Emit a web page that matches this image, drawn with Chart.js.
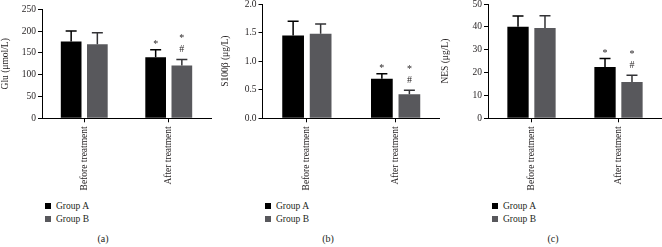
<!DOCTYPE html>
<html>
<head>
<meta charset="utf-8">
<script src="https://cdn.jsdelivr.net/npm/chart.js@4.4.1/dist/chart.umd.min.js"></script>
<style>
  body { margin: 0; background: #fff; width: 662px; height: 247px; position: relative; overflow: hidden;
         font-family: "Liberation Serif", "Times New Roman", serif; color: #231f20; }
  canvas { position: absolute; }
  .leg { position: absolute; font-size: 9.5px; line-height: 13px; white-space: nowrap; }
  .leg i { display: inline-block; width: 6px; height: 6px; margin-right: 5px; vertical-align: 0px; }
  .lab { position: absolute; font-size: 10px; transform: translateX(-50%); }
</style>
</head>
<body>
<canvas id="ca"></canvas>
<canvas id="cb"></canvas>
<canvas id="cc"></canvas>

<div class="leg" style="left:45px;top:200px"><i style="background:#000"></i>Group A<br><i style="background:#58585c"></i>Group B</div>
<div class="leg" style="left:265px;top:200px"><i style="background:#000"></i>Group A<br><i style="background:#58585c"></i>Group B</div>
<div class="leg" style="left:492px;top:200px"><i style="background:#000"></i>Group A<br><i style="background:#58585c"></i>Group B</div>
<div class="lab" style="left:103px;top:233px">(a)</div>
<div class="lab" style="left:328px;top:233px">(b)</div>
<div class="lab" style="left:553px;top:233px">(c)</div>

<script>
// data
const categories = ['Before treatment', 'After treatment'];
const groupNames = ['Group A', 'Group B'];

const gluA = [176, 140];
const gluAErr = [24, 17];
const gluB = [170, 121];
const gluBErr = [26, 14];

const s100A = [1.45, 0.69];
const s100AErr = [0.25, 0.09];
const s100B = [1.48, 0.42];
const s100BErr = [0.17, 0.07];

const nesA = [40, 22.4];
const nesAErr = [4.8, 3.8];
const nesB = [39.5, 15.9];
const nesBErr = [5.4, 2.9];

// significance marks above each bar (bottom line last)
const marksA = [[], ['*']];
const marksB = [[], ['*', '#']];

const FONT = '"Liberation Serif", "Times New Roman", serif';
const TXT = '#231f20';
const colA = '#000000';
const colB = '#58585c';

// error bars + marks
const errorBars = {
  id: 'errorBars',
  afterDatasetsDraw(chart) {
    const ctx = chart.ctx;
    const y = chart.scales.y;
    chart.data.datasets.forEach((ds, i) => {
      const meta = chart.getDatasetMeta(i);
      meta.data.forEach((bar, j) => {
        const top = y.getPixelForValue(ds.data[j] + ds.errors[j]);
        ctx.save();
        ctx.strokeStyle = ds.errColor;
        ctx.lineWidth = 1.5;
        ctx.beginPath();
        ctx.moveTo(bar.x, bar.y);
        ctx.lineTo(bar.x, top);
        ctx.moveTo(bar.x - 5.5, top);
        ctx.lineTo(bar.x + 5.5, top);
        ctx.stroke();

        ctx.fillStyle = TXT;
        ctx.font = '10px ' + FONT;
        ctx.textAlign = 'center';
        ctx.textBaseline = 'alphabetic';
        const marks = ds.marks[j].slice().reverse();
        let yy = top;
        marks.forEach((m, k) => {
          yy -= (k === 0) ? (m === '#' ? 7 : 2.5) : 11;
          ctx.fillText(m, bar.x, yy);
        });
        ctx.restore();
      });
    });
  }
};

function makeChart(id, p, a, aErr, b, bErr, yMax, step, title, fmt) {
  const el = document.getElementById(id);
  el.style.left = p.left + 'px';
  el.style.top = '-10px';
  el.style.width = p.width + 'px';
  el.style.height = '210px';
  return new Chart(el, {
    type: 'bar',
    data: {
      labels: categories,
      datasets: [
        { label: groupNames[0], data: a, errors: aErr, marks: marksA, backgroundColor: colA, errColor: '#000',
          barPercentage: 0.79, categoryPercentage: 0.62 },
        { label: groupNames[1], data: b, errors: bErr, marks: marksB, backgroundColor: colB, errColor: '#333336',
          barPercentage: 0.79, categoryPercentage: 0.62 }
      ]
    },
    options: {
      responsive: false,
      animation: false,
      layout: { padding: { top: p.plotTop + 10, right: p.left + p.width - p.plotRight, left: 0, bottom: 0 } },
      plugins: { legend: { display: false }, tooltip: { enabled: false } },
      scales: {
        x: {
          grid: { display: true, drawOnChartArea: false, offset: false, tickLength: 4, color: '#000', lineWidth: 1 },
          border: { display: true, color: '#000', width: 1 },
          ticks: { color: TXT, font: { family: FONT, size: 9.5 }, minRotation: 90, maxRotation: 90, padding: 4, autoSkip: false },
          afterFit(s) { s.height = 200 - p.plotBottom; }
        },
        y: {
          min: 0, max: yMax,
          grid: { display: true, drawOnChartArea: false, tickLength: 4, color: '#000', lineWidth: 1 },
          border: { display: true, color: '#000', width: 1 },
          ticks: { stepSize: step, color: TXT, font: { family: FONT, size: 9.5 }, padding: 2,
                   callback: v => fmt ? v.toFixed(1) : v },
          title: { display: true, text: title, color: TXT, font: { family: FONT, size: 9.5 }, padding: 0 },
          afterFit(s) { s.width = p.plotLeft - p.left; }
        }
      }
    },
    plugins: [errorBars]
  });
}

// el.width/height attributes
['ca', 'cb', 'cc'].forEach((id, k) => {
  const el = document.getElementById(id);
  el.width = [220, 220, 222][k];
  el.height = 210;
});

makeChart('ca', { left: 0, width: 220, plotLeft: 42, plotRight: 211, plotTop: 9.3, plotBottom: 118.3 },
  gluA, gluAErr, gluB, gluBErr, 250, 50, 'Glu (μmol/L)', false);
makeChart('cb', { left: 220, width: 220, plotLeft: 262.5, plotRight: 440, plotTop: 4, plotBottom: 118.3 },
  s100A, s100AErr, s100B, s100BErr, 2.0, 0.5, 'S100β (μg/L)', true);
makeChart('cc', { left: 440, width: 222, plotLeft: 488, plotRight: 662, plotTop: 4, plotBottom: 118.3 },
  nesA, nesAErr, nesB, nesBErr, 50, 10, 'NES (μg/L)', false);
</script>
</body>
</html>
